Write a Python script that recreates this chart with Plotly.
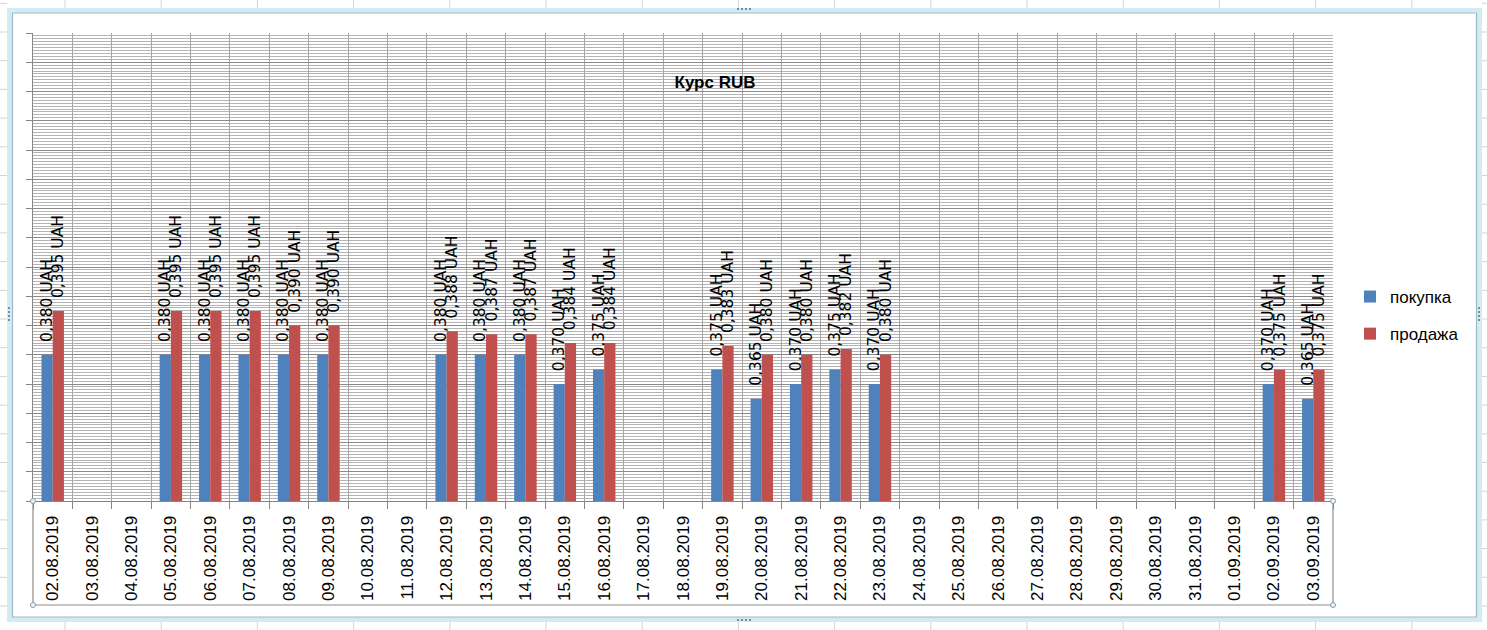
import plotly.graph_objects as go

# ---- data ----
dates = ["02.08.2019", "03.08.2019", "04.08.2019", "05.08.2019", "06.08.2019",
         "07.08.2019", "08.08.2019", "09.08.2019", "10.08.2019", "11.08.2019",
         "12.08.2019", "13.08.2019", "14.08.2019", "15.08.2019", "16.08.2019",
         "17.08.2019", "18.08.2019", "19.08.2019", "20.08.2019", "21.08.2019",
         "22.08.2019", "23.08.2019", "24.08.2019", "25.08.2019", "26.08.2019",
         "27.08.2019", "28.08.2019", "29.08.2019", "30.08.2019", "31.08.2019",
         "01.09.2019", "02.09.2019", "03.09.2019"]
buy = [0.380, None, None, 0.380, 0.380, 0.380, 0.380, 0.380, None, None,
       0.380, 0.380, 0.380, 0.370, 0.375, None, None, 0.375, 0.365, 0.370,
       0.375, 0.370, None, None, None, None, None, None, None, None,
       None, 0.370, 0.365]
sell = [0.395, None, None, 0.395, 0.395, 0.395, 0.390, 0.390, None, None,
        0.388, 0.387, 0.387, 0.384, 0.384, None, None, 0.383, 0.380, 0.380,
        0.382, 0.380, None, None, None, None, None, None, None, None,
        None, 0.375, 0.375]
series_names = ["покупка", "продажа"]
title_text = "Курс RUB"
y_min, y_max, y_major, y_minor = 0.33, 0.49, 0.01, 0.001


def fmt(v):
    return "" if v is None else "\u00a0\u00a0" + f"{v:.3f}".replace(".", ",") + " UAH"


W, H = 1487, 630
L, R, T, B = 33, 1333, 33, 501  # plot area in pixels


def px(x):
    return (x - L) / (R - L)


def py(y):
    return (B - y) / (B - T)


fig = go.Figure()
colors = ["#4F81BD", "#C0504D"]
for name, vals, col in zip(series_names, [buy, sell], colors):
    fig.add_trace(go.Bar(
        x=dates, y=vals, name=name, marker=dict(color=col, line=dict(width=0)),
        text=[fmt(v) for v in vals], textposition="outside", textangle=-90,
        constraintext="none", cliponaxis=False,
        textfont=dict(family="DejaVu Sans", size=15.5, color="black"),
        legendgroup=name,
    ))

shapes = []
# Excel sheet grid visible outside the chart frame
sheet = "#d4d4d4"
xs = [65 + k * 96.2 for k in range(16)]
ys = [3.3 + k * 28.7 for k in range(23)]
for x in xs:
    for (y0, y1) in [(0, 8), (621, 630)]:
        shapes.append(dict(type="line", xref="paper", yref="paper",
                           x0=px(x), x1=px(x), y0=py(y0), y1=py(y1),
                           line=dict(color=sheet, width=1)))
for y in ys:
    for (x0, x1) in [(0, 7), (1482, 1487)]:
        shapes.append(dict(type="line", xref="paper", yref="paper",
                           x0=px(x0), x1=px(x1), y0=py(y), y1=py(y),
                           line=dict(color=sheet, width=1)))
# chart frame (selection border)
shapes.append(dict(type="rect", xref="paper", yref="paper",
                   x0=px(9.5), x1=px(1479.5), y0=py(10.5), y1=py(619.5),
                   line=dict(color="#d3ebf3", width=5)))
shapes.append(dict(type="rect", xref="paper", yref="paper",
                   x0=px(12.5), x1=px(1476.5), y0=py(13), y1=py(617),
                   line=dict(color="#9fb9c6", width=1.2)))
# category axis selection box
box = "#8e8e8e"
shapes.append(dict(type="path", xref="paper", yref="paper",
                   path=f"M{px(L)},{py(B)} L{px(L)},{py(605)} L{px(R)},{py(605)} L{px(R)},{py(B)}",
                   line=dict(color=box, width=1.2)))
for (cx, cy) in [(L, B), (L, 605), (R, B), (R, 605)]:
    shapes.append(dict(type="circle", xref="paper", yref="paper",
                       x0=px(cx - 2.5), x1=px(cx + 2.5), y0=py(cy - 2.5), y1=py(cy + 2.5),
                       line=dict(color="#7f9db0", width=1), fillcolor="#eef6fa"))
# handle dots
for k in range(4):
    shapes.append(dict(type="rect", xref="paper", yref="paper",
                       x0=px(737 + k * 4), x1=px(739 + k * 4), y0=py(8), y1=py(10),
                       line=dict(width=0), fillcolor="#7a8f9c"))
    shapes.append(dict(type="rect", xref="paper", yref="paper",
                       x0=px(737 + k * 4), x1=px(739 + k * 4), y0=py(619), y1=py(621),
                       line=dict(width=0), fillcolor="#7a8f9c"))
    shapes.append(dict(type="rect", xref="paper", yref="paper",
                       x0=px(8), x1=px(10), y0=py(307 + k * 4), y1=py(309 + k * 4),
                       line=dict(width=0), fillcolor="#7a8f9c"))
    shapes.append(dict(type="rect", xref="paper", yref="paper",
                       x0=px(1478), x1=px(1480), y0=py(307 + k * 4), y1=py(309 + k * 4),
                       line=dict(width=0), fillcolor="#7a8f9c"))

fig.update_layout(
    width=W, height=H,
    margin=dict(l=L, r=W - R, t=T, b=H - B, autoexpand=False),
    paper_bgcolor="white", plot_bgcolor="white",
    barmode="group", bargap=0.43, bargroupgap=0,
    font=dict(family="Liberation Sans", color="black"),
    title=dict(text=f"<b>{title_text}</b>", xref="container", yref="container",
               x=715 / W, xanchor="center", y=1 - 82 / H, yanchor="middle",
               font=dict(family="Liberation Sans", size=17, color="black")),
    legend=dict(x=px(1350), y=py(279), xanchor="left", yanchor="top",
                font=dict(family="Liberation Sans", size=17, color="black"),
                tracegroupgap=12, bgcolor="rgba(0,0,0,0)"),
    xaxis=dict(type="category", tickangle=-90, tickson="boundaries",
               ticks="outside", ticklen=7, tickcolor="#868686",
               showgrid=True, gridcolor="#a6a6a6", gridwidth=1,
               showline=True, linecolor="#868686", linewidth=1,
               tickfont=dict(family="Liberation Sans", size=17, color="black"),
               ticklabelstandoff=7, automargin=False, fixedrange=True),
    yaxis=dict(range=[y_min, y_max], dtick=y_major, tick0=y_min,
               showticklabels=False, ticks="outside", ticklen=6, tickcolor="#868686",
               showgrid=True, gridcolor="#8a8a8a", gridwidth=1,
               minor=dict(dtick=y_minor, tick0=y_min, showgrid=True,
                          gridcolor="#b4b4b4", gridwidth=1, ticks=""),
               showline=True, linecolor="#868686", linewidth=1,
               zeroline=False, automargin=False, fixedrange=True),
    shapes=shapes,
    showlegend=True,
)

fig.write_html("out.html", config={"displayModeBar": False},
               post_script="document.body.style.margin='0';document.body.style.overflow='hidden';")
